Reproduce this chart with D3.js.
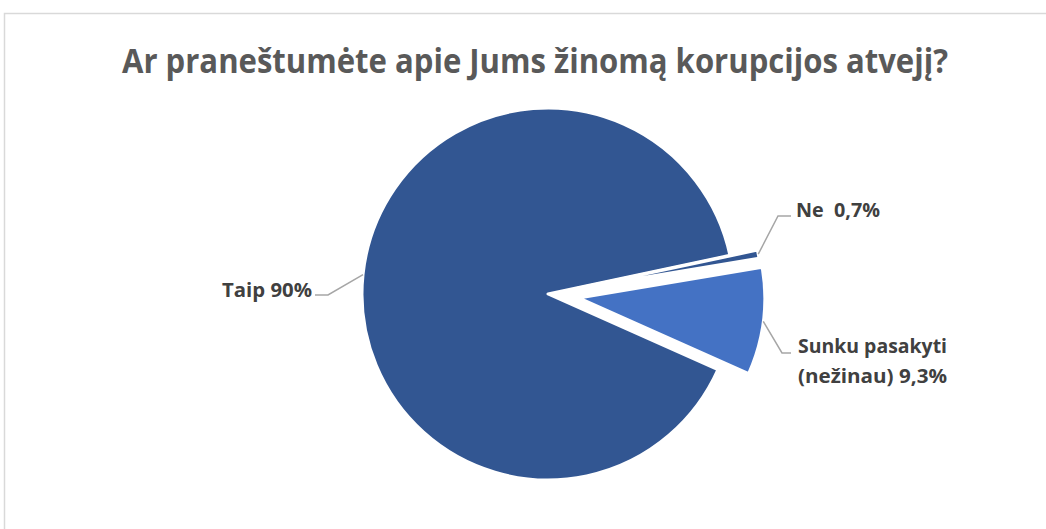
<!DOCTYPE html>
<html>
<head>
<meta charset="utf-8">
<script src="https://cdn.jsdelivr.net/npm/d3@7"></script>
<style>
  html, body { margin: 0; padding: 0; background: #fff; }
  svg { display: block; }
  text { font-family: "Open Sans", "Noto Sans", sans-serif; font-weight: 700; white-space: pre; }
</style>
</head>
<body>
<svg id="chart" width="1046" height="529"></svg>
<script>
// ---- data ----
const categories = ["Taip", "Ne", "Sunku pasakyti (nežinau)"];
const values = [90, 0.7, 9.3];
const labelLines = [["Taip 90%"], ["Ne  0,7%"], ["Sunku pasakyti", "(nežinau) 9,3%"]];
const titleText = "Ar praneštumėte apie Jums žinomą korupcijos atvejį?";

// ---- layout ----
const W = 1046, H = 529;
const cx = 548, cy = 294, R = 186;
const explode = [0, 28, 31];
const colors = ["#325692", "#325692", "#4472C4"];
const startDeg = 114;

const svg = d3.select("#chart");

// frame
svg.append("rect").attr("x", 4.5).attr("y", 13.5).attr("width", 1100).attr("height", 600)
  .attr("fill", "#fff").attr("stroke", "#d9d9d9").attr("stroke-width", 1.5);

// title
svg.append("text").attr("x", 535).attr("y", 73).attr("text-anchor", "middle")
  .attr("font-size", 34).attr("fill", "#595959")
  .attr("textLength", 826).attr("lengthAdjust", "spacingAndGlyphs")
  .text(titleText);

const pie = d3.pie().sort(null).value(d => d)
  .startAngle(startDeg * Math.PI / 180)
  .endAngle(startDeg * Math.PI / 180 + 2 * Math.PI);
const arcs = pie(values);
const arc = d3.arc().innerRadius(0).outerRadius(R);

const g = svg.append("g").attr("transform", `translate(${cx},${cy})`);
g.selectAll("path").data(arcs).join("path")
  .attr("d", arc)
  .attr("fill", (d, i) => colors[i])
  .attr("stroke", "#fff").attr("stroke-width", 3).attr("stroke-linejoin", "round")
  .attr("transform", (d, i) => {
    const a = (d.startAngle + d.endAngle) / 2;
    return `translate(${Math.sin(a) * explode[i]},${-Math.cos(a) * explode[i]})`;
  });

// leader lines and labels
const elbows = [[328, 295, 315, 295], [778, 216, 791, 216], [782, 353, 791, 353]];
const labelPos = [
  { x: 312, y: 297, anchor: "end", widths: [90] },
  { x: 796, y: 217, anchor: "start", widths: [84] },
  { x: 798, y: 353, anchor: "start", widths: [149, 149] }
];
arcs.forEach((d, i) => {
  const a = (d.startAngle + d.endAngle) / 2;
  const rr = R + explode[i];
  const p0 = [cx + Math.sin(a) * rr, cy - Math.cos(a) * rr];
  const e = elbows[i];
  svg.append("polyline")
    .attr("points", [p0, [e[0], e[1]], [e[2], e[3]]].map(p => p.join(",")).join(" "))
    .attr("fill", "none").attr("stroke", "#a6a6a6").attr("stroke-width", 1.5);
  const lp = labelPos[i];
  labelLines[i].forEach((line, j) => {
    svg.append("text").attr("x", lp.x).attr("y", lp.y + j * 30)
      .attr("text-anchor", lp.anchor).attr("font-size", 19).attr("fill", "#404040")
      .attr("textLength", lp.widths[j]).attr("lengthAdjust", "spacingAndGlyphs")
      .text(line);
  });
});
</script>
</body>
</html>
